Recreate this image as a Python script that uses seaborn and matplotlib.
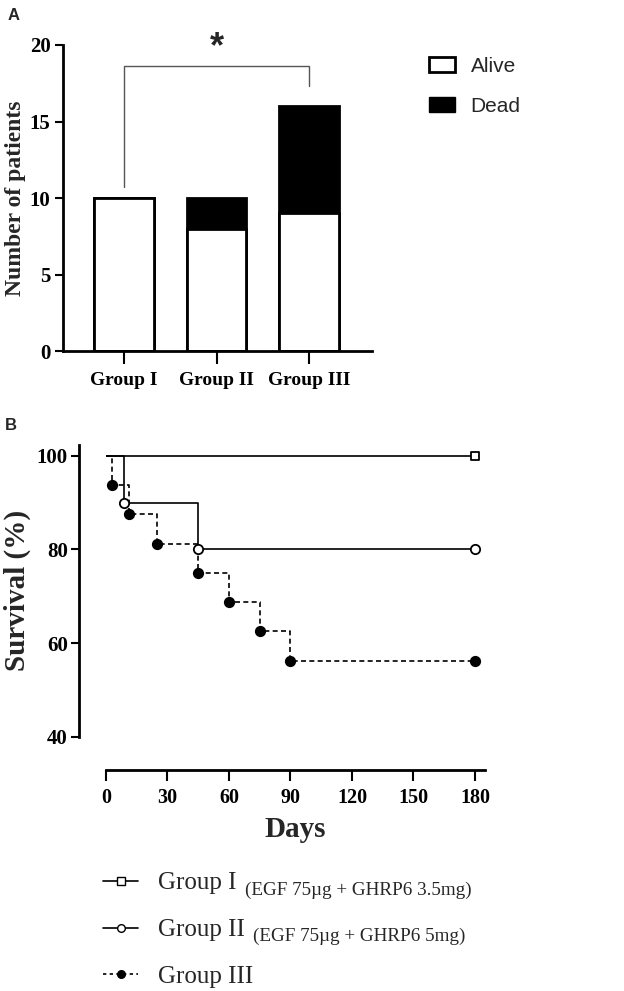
import numpy as np
import pandas as pd
import seaborn as sns
import matplotlib
matplotlib.use("Agg")
import matplotlib.pyplot as plt
from matplotlib.patches import Patch
from matplotlib.lines import Line2D

# panel A data
groups = ["Group I", "Group II", "Group III"]
alive = [10, 8, 9]
dead = [0, 2, 7]

# panel B data (Kaplan-Meier steps)
g1_days = [0, 180]
g1_surv = [100, 100]
g2_days = [0, 9, 45, 180]
g2_surv = [100, 90, 80, 80]
g3_days = [0, 3, 11, 25, 45, 60, 75, 90, 180]
g3_surv = [100, 93.75, 87.5, 81.25, 75, 68.75, 62.5, 56.25, 56.25]

legend_main = ["Group I", "Group II", "Group III"]
legend_sub = ["(EGF 75\u00b5g + GHRP6 3.5mg)", "(EGF 75\u00b5g + GHRP6 5mg)"]

sns.set_style("ticks")
plt.rcParams["font.family"] = ["Liberation Serif", "DejaVu Serif"]

W, H = 624, 991
fig = plt.figure(figsize=(W / 100, H / 100), dpi=100)


def px_axes(l, t, r, b):
    return fig.add_axes([l / W, 1 - b / H, (r - l) / W, (b - t) / H])


# ---------- panel A ----------
ax1 = px_axes(63, 45, 372, 351)
bars = pd.DataFrame({"group": groups, "alive": alive,
                     "total": np.array(alive) + np.array(dead)})
sns.barplot(data=bars, x="group", y="total", order=groups, color="black",
            saturation=1, width=0.64, edgecolor="black", linewidth=2, ax=ax1)
sns.barplot(data=bars, x="group", y="alive", order=groups, color="white",
            saturation=1, width=0.64, edgecolor="black", linewidth=2, ax=ax1)
ax1.set_xlim(-0.66, 2.68)
ax1.set_ylim(0, 20)
ax1.set_yticks([0, 5, 10, 15, 20])
ax1.set_xlabel("")
ax1.set_ylabel("Number of patients", fontsize=17, fontweight="bold", labelpad=3)
for s in ["top", "right"]:
    ax1.spines[s].set_visible(False)
for s in ["left", "bottom"]:
    ax1.spines[s].set_linewidth(2)
    ax1.spines[s].set_color("black")
ax1.tick_params(axis="x", length=9, width=1.5, pad=6, colors="black")
ax1.tick_params(axis="y", length=6, width=1.5, pad=3, colors="black")
plt.setp(ax1.get_xticklabels(), fontsize=14, fontweight="bold")
plt.setp(ax1.get_yticklabels(), fontsize=15, fontweight="bold")

# significance bracket
ax1.plot([0, 0, 2, 2], [10.7, 18.6, 18.6, 17.3], color="#555555", lw=1,
         clip_on=False)
ax1.text(1, 19.8, "*", ha="center", va="center", fontsize=26,
         fontweight="bold", family="Liberation Sans", clip_on=False)

fig.legend(handles=[Patch(facecolor="white", edgecolor="black", lw=2),
                    Patch(facecolor="black", edgecolor="black")],
           labels=["Alive", "Dead"], loc="upper left",
           bbox_to_anchor=(429 / W, 1 - 57 / H), frameon=False,
           prop={"family": "Liberation Sans", "size": 15},
           handlelength=1.25, handleheight=0.7, handletextpad=0.75,
           labelspacing=1.0, borderpad=0, borderaxespad=0)

# ---------- panel B ----------
ax2 = px_axes(106, 445, 106 + 185 * 2.05, 736.7)
lw = 1.2
sns.lineplot(x=g1_days, y=g1_surv, drawstyle="steps-post", color="black",
             lw=lw, estimator=None, sort=False, ax=ax2)
sns.lineplot(x=g2_days, y=g2_surv, drawstyle="steps-post", color="black",
             lw=lw, estimator=None, sort=False, ax=ax2)
sns.lineplot(x=g3_days, y=g3_surv, drawstyle="steps-post", color="black",
             lw=lw, estimator=None, sort=False, ax=ax2,
             linestyle=(0, (3, 2)))
sns.scatterplot(x=g1_days[1:], y=g1_surv[1:], marker="s", s=40,
                facecolor="white", edgecolor="black", linewidth=1.3,
                clip_on=False, zorder=5, ax=ax2)
sns.scatterplot(x=g2_days[1:], y=g2_surv[1:], marker="o", s=45,
                facecolor="white", edgecolor="black", linewidth=1.3,
                clip_on=False, zorder=5, ax=ax2)
sns.scatterplot(x=g3_days[1:], y=g3_surv[1:], marker="o", s=50,
                facecolor="black", edgecolor="black", linewidth=1,
                clip_on=False, zorder=6, ax=ax2)

ax2.set_xlim(0, 185)
ax2.set_ylim(40, 102.3)
ax2.set_xticks([0, 30, 60, 90, 120, 150, 180])
ax2.set_yticks([40, 60, 80, 100])
for s in ["top", "right"]:
    ax2.spines[s].set_visible(False)
ax2.spines["left"].set_position(("outward", 19.4))
ax2.spines["bottom"].set_position(("outward", 24))
for s in ["left", "bottom"]:
    ax2.spines[s].set_linewidth(2)
    ax2.spines[s].set_color("black")
ax2.tick_params(axis="x", length=8, width=1.5, pad=5, colors="black")
ax2.tick_params(axis="y", length=6, width=1.5, pad=2, colors="black")
plt.setp(ax2.get_xticklabels(), fontsize=14.5, fontweight="bold")
plt.setp(ax2.get_yticklabels(), fontsize=15, fontweight="bold")
ax2.set_xlabel("Days", fontsize=21, fontweight="bold", labelpad=6)
ax2.set_ylabel("Survival (%)", fontsize=21, fontweight="bold", labelpad=4)

handles = [
    Line2D([], [], color="black", lw=lw, marker="s", ms=5.5,
           mfc="white", mec="black"),
    Line2D([], [], color="black", lw=lw, marker="o", ms=5.5,
           mfc="white", mec="black"),
    Line2D([], [], color="black", lw=lw, marker="o", ms=5.5,
           mfc="black", mec="black", linestyle=(0, (2, 2))),
]
leg = fig.legend(handles=handles, labels=legend_main, loc="upper left",
                 bbox_to_anchor=(103 / W, 1 - 872 / H), frameon=False,
                 prop={"family": "Liberation Serif", "size": 18},
                 handlelength=1.4, handletextpad=0.8, labelspacing=0.97,
                 borderpad=0, borderaxespad=0)

fig.canvas.draw()
for txt, sub in zip(leg.get_texts()[:2], legend_sub):
    ax2.annotate(sub, xy=(1, 0), xycoords=txt, xytext=(6, -3),
                 textcoords="offset points", ha="left", va="bottom",
                 fontsize=13.8, family="Liberation Serif",
                 annotation_clip=False)

fig.text(8 / W, 1 - 16 / H, "A", fontsize=12, fontweight="bold",
         family="Liberation Sans", va="center", ha="left")
fig.text(5 / W, 1 - 425 / H, "B", fontsize=12, fontweight="bold",
         family="Liberation Sans", va="center", ha="left")

fig.savefig("out.png", dpi=100)
